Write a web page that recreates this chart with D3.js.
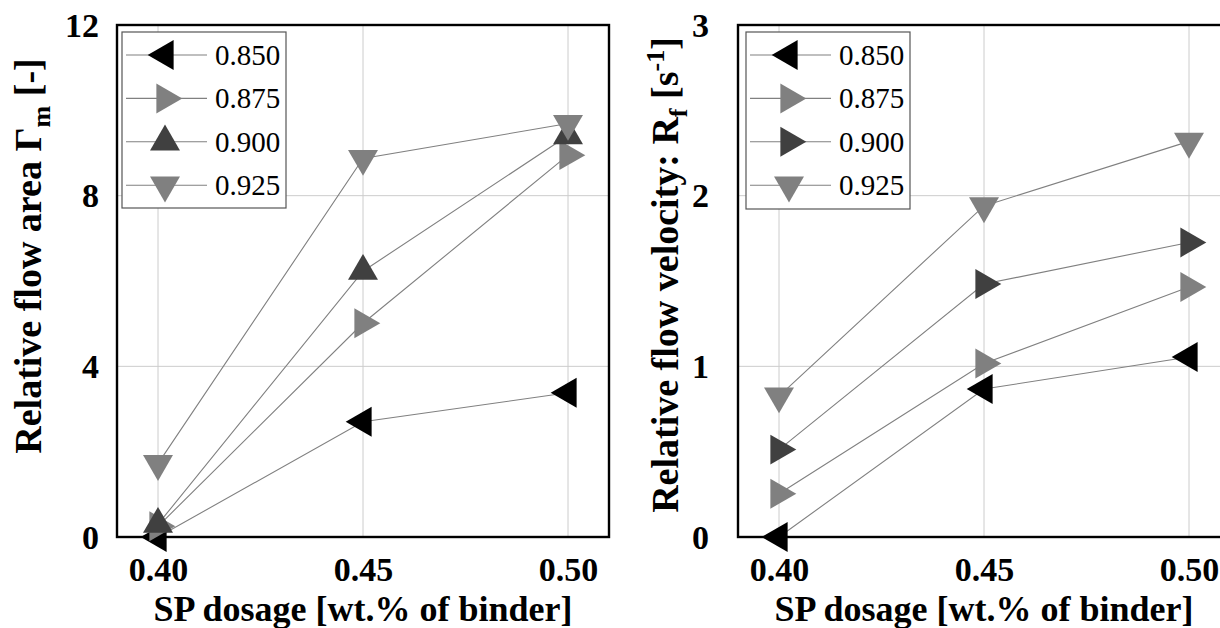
<!DOCTYPE html>
<html>
<head>
<meta charset="utf-8">
<script src="https://cdn.jsdelivr.net/npm/d3@7"></script>
<style>
  body { margin: 0; background: #fff; }
  svg { display: block; }
  text { font-family: "Liberation Serif", "DejaVu Serif", serif; }
</style>
</head>
<body>
<svg id="chart" width="1220" height="628"></svg>
<script>
// SP dosage levels (wt.% of binder) and axis ticks
const dosage = [0.40, 0.45, 0.50];
const dosageTicks = [0.40, 0.45, 0.50];
const ratioLabels = ["0.850", "0.875", "0.900", "0.925"];

// Relative flow area Γm [-]
const areaTicks = [0, 4, 8, 12];
const area850 = [0.00, 2.70, 3.38];
const area875 = [0.25, 5.01, 8.95];
const area900 = [0.30, 6.23, 9.41];
const area925 = [1.72, 8.87, 9.69];

// Relative flow velocity Rf [1/s]
const velocityTicks = [0, 1, 2, 3];
const vel850 = [0.000, 0.867, 1.055];
const vel875 = [0.253, 1.016, 1.465];
const vel900 = [0.512, 1.482, 1.726];
const vel925 = [0.826, 1.940, 2.318];

// marker styling per series
const markerFill = ["#000000", "#808080", "#404040", "#808080"];
const markerAngle = { left: -90, right: 90, up: 0, down: 180 };

const svg = d3.select("#chart");
svg.append("rect").attr("width", 1220).attr("height", 628).attr("fill", "#fff");

const markR = 17.3;
const triangle = d3.symbol(d3.symbolTriangle, 3 * Math.sqrt(3) * markR * markR / 4);

const panels = [
  {
    left: 117, right: 609, top: 25, bottom: 537,
    yMax: 12, yTicks: areaTicks,
    series: [area850, area875, area900, area925],
    shapes: ["left", "right", "up", "down"],
    tickEnd: 99,
    legend: { x: 122, y: 32, w: 164, h: 176 },
    titleX: 41, titleY: 256,
    title: [["Relative flow area Γ", 0], ["m", 1], [" [-]", 0]]
  },
  {
    left: 738, right: 1230, top: 25, bottom: 537,
    yMax: 3, yTicks: velocityTicks,
    series: [vel850, vel875, vel900, vel925],
    shapes: ["left", "right", "right", "down"],
    tickEnd: 709,
    legend: { x: 746, y: 32, w: 164, h: 177 },
    titleX: 678, titleY: 275,
    title: [["Relative flow velocity: R", 0], ["f", 1], [" [s", 0], ["-1", -1], ["]", 0]]
  }
];

panels.forEach(p => {
  const x = d3.scaleLinear().domain([0.39, 0.51]).range([p.left, p.right]);
  const y = d3.scaleLinear().domain([0, p.yMax]).range([p.bottom, p.top]);
  const g = svg.append("g");
  const centerX = Math.min((p.left + p.right) / 2, x(0.45));

  // grid
  const grid = g.append("g").attr("stroke", "#cccccc").attr("stroke-width", 1);
  dosageTicks.forEach(t => grid.append("line")
    .attr("x1", x(t)).attr("x2", x(t)).attr("y1", p.top).attr("y2", p.bottom));
  p.yTicks.forEach(t => grid.append("line")
    .attr("x1", p.left).attr("x2", p.right).attr("y1", y(t)).attr("y2", y(t)));

  // frame
  g.append("rect")
    .attr("x", p.left).attr("y", p.top)
    .attr("width", p.right - p.left).attr("height", p.bottom - p.top)
    .attr("fill", "none").attr("stroke", "#000").attr("stroke-width", 2.4);

  // x axis tick labels
  const xAxis = g.append("g")
    .attr("transform", `translate(0,${p.bottom})`)
    .call(d3.axisBottom(x).tickValues(dosageTicks).tickFormat(d3.format(".2f")).tickSize(0).tickPadding(10));
  xAxis.select(".domain").remove();
  xAxis.selectAll("text")
    .attr("font-family", "Liberation Serif, serif")
    .attr("font-weight", "bold").attr("font-size", 34).attr("fill", "#000")
    .attr("dy", null).attr("y", 44);

  // y axis tick labels
  const yAxis = g.append("g")
    .attr("transform", `translate(${p.tickEnd},0)`)
    .call(d3.axisLeft(y).tickValues(p.yTicks).tickFormat(d3.format("d")).tickSize(0).tickPadding(0));
  yAxis.select(".domain").remove();
  yAxis.selectAll("text")
    .attr("font-family", "Liberation Serif, serif")
    .attr("font-weight", "bold").attr("font-size", 34).attr("fill", "#000")
    .attr("x", 0).attr("dy", "0.33em");

  // x title
  g.append("text")
    .attr("x", centerX)
    .attr("y", 621)
    .attr("text-anchor", "middle")
    .attr("font-weight", "bold").attr("font-size", 36)
    .text("SP dosage [wt.% of binder]");

  // y title (rotated)
  const yt = g.append("text")
    .attr("transform", `translate(${p.titleX},${p.titleY}) rotate(-90)`)
    .attr("text-anchor", "middle")
    .attr("font-weight", "bold").attr("font-size", 38);
  let prevShift = 0;
  p.title.forEach(([s, shift]) => {
    const ts = yt.append("tspan").text(s);
    const dy = shift === 1 ? 9 : shift === -1 ? -14 : 0;
    if (dy - prevShift !== 0) ts.attr("dy", dy - prevShift);
    if (shift !== 0) ts.attr("font-size", 26);
    prevShift = dy;
  });

  // series
  const line = d3.line().x((d, i) => x(dosage[i])).y(d => y(d));
  p.series.forEach((vals, si) => {
    const sg = g.append("g");
    sg.append("path").datum(vals)
      .attr("d", line).attr("fill", "none")
      .attr("stroke", "#808080").attr("stroke-width", 1.1);
    sg.selectAll("path.mark").data(vals).join("path")
      .attr("class", "mark")
      .attr("d", triangle)
      .attr("transform", (d, i) => `translate(${x(dosage[i])},${y(d)}) rotate(${markerAngle[p.shapes[si]]})`)
      .attr("fill", markerFill[si]);
  });

  // legend
  const L = p.legend;
  const lg = g.append("g");
  lg.append("rect")
    .attr("x", L.x).attr("y", L.y).attr("width", L.w).attr("height", L.h)
    .attr("fill", "#fff").attr("stroke", "#555").attr("stroke-width", 1.2);
  ratioLabels.forEach((lab, i) => {
    const cy = L.y + 23 + i * 43.4;
    lg.append("line")
      .attr("x1", L.x + 4).attr("x2", L.x + 85).attr("y1", cy).attr("y2", cy)
      .attr("stroke", "#808080").attr("stroke-width", 1.1);
    lg.append("path")
      .attr("d", triangle)
      .attr("transform", `translate(${L.x + 43},${cy}) rotate(${markerAngle[p.shapes[i]]})`)
      .attr("fill", markerFill[i]);
    lg.append("text")
      .attr("x", L.x + 93).attr("y", cy + 10)
      .attr("font-size", 29).attr("fill", "#000")
      .text(lab);
  });
});
</script>
</body>
</html>
